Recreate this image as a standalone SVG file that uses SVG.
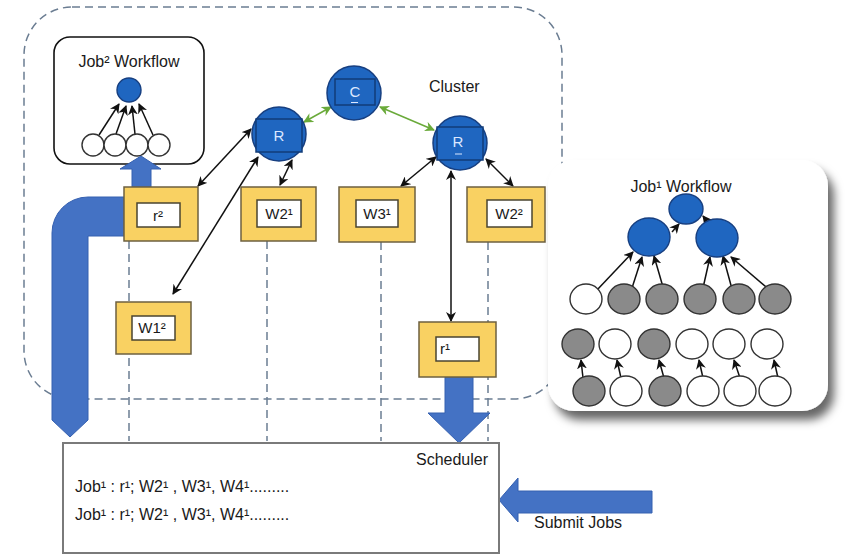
<svg xmlns="http://www.w3.org/2000/svg" width="850" height="560" viewBox="0 0 850 560">
<defs>
<style>
text{font-family:"Liberation Sans",Arial,sans-serif;fill:#1a1a1a}
.dash{fill:none;stroke:#6b7d92;stroke-width:1.5;stroke-dasharray:8 5}
.ybox{fill:#f9d162;stroke:#6d6040;stroke-width:1.5}
.ibox{fill:#fff;stroke:#4a4430;stroke-width:1.5}
.lbl{font-size:15px;text-anchor:middle}
.node{fill:#1f66c0;stroke:#173f80;stroke-width:1.5}
.nsq{fill:#1f66c0;stroke:#123c78;stroke-width:1.5}
.nl{font-size:15px;fill:#dce8ff;text-anchor:middle}
.bk{stroke:#111;stroke-width:1.5;fill:none;marker-end:url(#ah);marker-start:url(#ah)}
.bk1{stroke:#111;stroke-width:1.5;fill:none;marker-end:url(#ah)}
.gr{stroke:#6aaa3a;stroke-width:1.5;fill:none;marker-end:url(#ag);marker-start:url(#ag)}
.big{fill:#4472c4;stroke:#3560b0;stroke-width:1}
.wc{fill:#fff;stroke:#333;stroke-width:1.4}
.gc{fill:#8a8a8a;stroke:#333;stroke-width:1.4}
.bc{fill:#1f66c0;stroke:#173f80;stroke-width:1.4}
</style>
<marker id="ah" viewBox="0 0 10 10" refX="9" refY="5" markerWidth="10" markerHeight="10" markerUnits="userSpaceOnUse" orient="auto-start-reverse">
<path d="M0,0 L10,5 L0,10 L3,5 z" fill="#111"/>
</marker>
<marker id="ag" viewBox="0 0 10 10" refX="9" refY="5" markerWidth="10" markerHeight="10" markerUnits="userSpaceOnUse" orient="auto-start-reverse">
<path d="M0,0 L10,5 L0,10 L3,5 z" fill="#6aaa3a"/>
</marker>
<filter id="sh" x="-10%" y="-10%" width="125%" height="130%">
<feDropShadow dx="6" dy="9" stdDeviation="5" flood-color="#000" flood-opacity="0.6"/>
</filter>
</defs>
<rect width="850" height="560" fill="#fff"/>

<g id="cluster">
<rect class="dash" x="24" y="7" width="538" height="392" rx="48"/>
<text x="429" y="92" font-size="16">Cluster</text>
</g>

<g id="lanes">
<line class="dash" x1="129" y1="241" x2="129" y2="441"/>
<line class="dash" x1="267" y1="241" x2="267" y2="441"/>
<line class="dash" x1="381" y1="242" x2="381" y2="441"/>
<line class="dash" x1="488" y1="242" x2="488" y2="441"/>
</g>

<g id="job2-workflow">
<rect x="54" y="37" width="150" height="127" rx="16" fill="#fff" stroke="#111" stroke-width="1.6"/>
<text x="129" y="67" font-size="16" text-anchor="middle">Job² Workflow</text>
<circle class="bc" cx="129" cy="90" r="12"/>
<line class="bk1" x1="99" y1="135" x2="119" y2="104"/>
<line class="bk1" x1="116" y1="134" x2="126" y2="106"/>
<line class="bk1" x1="135" y1="134" x2="132" y2="106"/>
<line class="bk1" x1="153" y1="135" x2="139" y2="104"/>
<circle class="wc" cx="93" cy="145" r="11"/>
<circle class="wc" cx="115" cy="145" r="11"/>
<circle class="wc" cx="137" cy="145" r="11"/>
<circle class="wc" cx="159" cy="145" r="11"/>
</g>

<g id="big-arrows">
<path class="big" d="M124,197 H88 A36,36 0 0 0 52,233 V420 L70,437 L88,420 V236 H124 Z"/>
<path class="big" d="M132,187 V169 H120 L141,156 L161,169 H151 V187 Z"/>
<path class="big" d="M445,377 V413 H428 L459,443 L490,413 H473 V377 Z"/>
<path class="big" d="M652,491 H518 V478 L499,500 L518,522 V513 H652 Z"/>
</g>

<g id="connectors">
<line class="gr" x1="304" y1="122" x2="331" y2="107"/>
<line class="gr" x1="380" y1="107" x2="434" y2="130"/>
<line class="bk" x1="251" y1="129" x2="198" y2="186"/>
<line class="bk" x1="258" y1="157" x2="173" y2="294"/>
<line class="bk" x1="292" y1="160" x2="280" y2="185"/>
<line class="bk" x1="436" y1="157" x2="401" y2="186"/>
<line class="bk" x1="486" y1="159" x2="513" y2="186"/>
<line class="bk" x1="451" y1="171" x2="451" y2="321"/>
</g>

<g id="node-R1">
<circle class="node" cx="279" cy="134" r="27"/>
<rect class="nsq" x="256" y="119" width="46" height="33"/>
<text class="nl" x="279" y="141">R</text>
</g>
<g id="node-C">
<circle class="node" cx="354" cy="93" r="27"/>
<rect class="nsq" x="335" y="79" width="40" height="26"/>
<text class="nl" x="355" y="97">C</text>
<line x1="351" y1="102.5" x2="358" y2="102.5" stroke="#dce8ff" stroke-width="1"/>
</g>
<g id="node-R2">
<circle class="node" cx="460" cy="143" r="27"/>
<rect class="nsq" x="437" y="127" width="46" height="33"/>
<text class="nl" x="458" y="147">R</text>
<line x1="455" y1="154" x2="462" y2="154" stroke="#dce8ff" stroke-width="1"/>
</g>

<g id="r2">
<rect class="ybox" x="124" y="187" width="74" height="54"/>
<rect class="ibox" x="137" y="203" width="43" height="24"/>
<text class="lbl" x="158" y="221">r²</text>
</g>
<g id="W2-1">
<rect class="ybox" x="241" y="187" width="75" height="54"/>
<rect class="ibox" x="257" y="200" width="44" height="27"/>
<text class="lbl" x="279" y="219">W2¹</text>
</g>
<g id="W3-1">
<rect class="ybox" x="339" y="187" width="76" height="55"/>
<rect class="ibox" x="356" y="200" width="42" height="27"/>
<text class="lbl" x="377" y="219">W3¹</text>
</g>
<g id="W2-2">
<rect class="ybox" x="467" y="187" width="78" height="55"/>
<rect class="ibox" x="487" y="200" width="45" height="27"/>
<text class="lbl" x="509" y="219">W2²</text>
</g>
<g id="W1-2">
<rect class="ybox" x="116" y="302" width="75" height="52"/>
<rect class="ibox" x="132" y="316" width="43" height="24"/>
<text class="lbl" x="152" y="333">W1²</text>
</g>
<g id="r1">
<rect class="ybox" x="419" y="322" width="77" height="55"/>
<rect class="ibox" x="436" y="337" width="43" height="24"/>
<text x="440" y="354" font-size="15">r¹</text>
</g>

<g id="scheduler">
<rect x="63" y="443" width="436" height="110" fill="#fff" stroke="#7a7a7a" stroke-width="2"/>
<text x="488" y="465" font-size="16" text-anchor="end">Scheduler</text>
<text x="75" y="492" font-size="16">Job¹ : r¹; W2¹ , W3¹, W4¹.........</text>
<text x="75" y="520" font-size="16">Job¹ : r¹; W2¹ , W3¹, W4¹.........</text>
</g>

<g id="submit">
<text x="534" y="528" font-size="16">Submit Jobs</text>
</g>

<g id="job1-workflow">
<rect x="548" y="160" width="280" height="251" rx="26" fill="#fff" filter="url(#sh)"/>
<text x="681" y="192" font-size="16" text-anchor="middle">Job¹ Workflow</text>
<line class="bk1" x1="672" y1="232" x2="679" y2="224"/>
<line class="bk1" x1="713" y1="229" x2="703" y2="216"/>
<line class="bk1" x1="597" y1="290" x2="633" y2="252"/>
<line class="bk1" x1="632" y1="288" x2="642" y2="257"/>
<line class="bk1" x1="663" y1="287" x2="654" y2="256"/>
<line class="bk1" x1="703" y1="288" x2="710" y2="257"/>
<line class="bk1" x1="732" y1="289" x2="723" y2="256"/>
<line class="bk1" x1="772" y1="292" x2="731" y2="257"/>
<line class="bk1" x1="583" y1="378" x2="581" y2="360"/>
<line class="bk1" x1="621" y1="378" x2="617" y2="360"/>
<line class="bk1" x1="664" y1="378" x2="659" y2="360"/>
<line class="bk1" x1="703" y1="378" x2="699" y2="360"/>
<line class="bk1" x1="740" y1="378" x2="734" y2="360"/>
<line class="bk1" x1="778" y1="378" x2="774" y2="360"/>
<ellipse class="bc" cx="686" cy="209" rx="17" ry="15"/>
<ellipse class="bc" cx="649" cy="237" rx="21" ry="19"/>
<ellipse class="bc" cx="717" cy="238" rx="21" ry="19"/>
<ellipse class="wc" cx="586" cy="299" rx="16" ry="15"/>
<ellipse class="gc" cx="624" cy="299" rx="16" ry="15"/>
<ellipse class="gc" cx="662" cy="299" rx="16" ry="15"/>
<ellipse class="gc" cx="700" cy="299" rx="16" ry="15"/>
<ellipse class="gc" cx="739" cy="299" rx="16" ry="15"/>
<ellipse class="gc" cx="775" cy="299" rx="16" ry="15"/>
<ellipse class="gc" cx="578" cy="344" rx="16" ry="15"/>
<ellipse class="wc" cx="615" cy="344" rx="16" ry="15"/>
<ellipse class="gc" cx="654" cy="344" rx="16" ry="15"/>
<ellipse class="wc" cx="692" cy="344" rx="16" ry="15"/>
<ellipse class="wc" cx="729" cy="344" rx="16" ry="15"/>
<ellipse class="wc" cx="767" cy="344" rx="16" ry="15"/>
<ellipse class="gc" cx="589" cy="391" rx="16" ry="15"/>
<ellipse class="wc" cx="626" cy="391" rx="16" ry="15"/>
<ellipse class="gc" cx="665" cy="391" rx="16" ry="15"/>
<ellipse class="wc" cx="703" cy="391" rx="16" ry="15"/>
<ellipse class="wc" cx="740" cy="391" rx="16" ry="15"/>
<ellipse class="wc" cx="775" cy="391" rx="16" ry="15"/>
</g>
</svg>
